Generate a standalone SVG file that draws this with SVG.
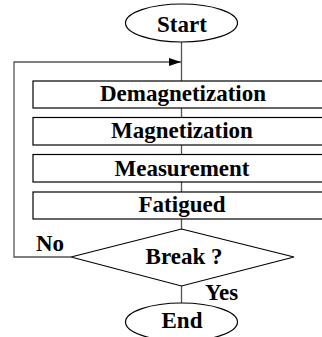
<svg xmlns="http://www.w3.org/2000/svg" width="322" height="337" viewBox="0 0 322 337">
<style>
.shape{fill:#fff;stroke:#000;stroke-width:1.2}
.lbl{font-family:"Liberation Serif","Times New Roman",serif;font-weight:bold;font-size:23px;fill:#000;text-anchor:middle}
.side{font-family:"Liberation Serif","Times New Roman",serif;font-weight:bold;font-size:23px;fill:#000}
.conn{fill:none;stroke:#555;stroke-width:1.3}
</style>
<defs>
<marker id="arr" markerWidth="12" markerHeight="8" refX="12" refY="4" orient="auto" markerUnits="userSpaceOnUse">
<path d="M0,0 L12,4 L0,8 Z" fill="#000"/>
</marker>
</defs>
<rect width="322" height="337" fill="#fff"/>
<g id="connectors">
<line class="conn" x1="181.5" y1="42" x2="181.5" y2="81"/>
<line class="conn" x1="181.5" y1="108" x2="181.5" y2="117"/>
<line class="conn" x1="181.5" y1="145" x2="181.5" y2="154"/>
<line class="conn" x1="181.5" y1="182" x2="181.5" y2="192"/>
<line class="conn" x1="181.5" y1="219" x2="181.5" y2="229"/>
<line class="conn" x1="181.5" y1="286" x2="181.5" y2="303"/>
<polyline class="conn" points="71,257 14,257 14,62 181,62" marker-end="url(#arr)"/>
</g>
<g id="start">
<ellipse class="shape" cx="181.5" cy="23" rx="56" ry="19"/>
<text class="lbl" x="182" y="32">Start</text>
</g>
<g id="demagnetization">
<rect class="shape" x="33" y="81" width="297" height="27"/>
<text class="lbl" x="183" y="101">Demagnetization</text>
</g>
<g id="magnetization">
<rect class="shape" x="33" y="117.5" width="297" height="27.5"/>
<text class="lbl" x="182" y="138">Magnetization</text>
</g>
<g id="measurement">
<rect class="shape" x="33" y="154.5" width="297" height="27.5"/>
<text class="lbl" x="182" y="176">Measurement</text>
</g>
<g id="fatigued">
<rect class="shape" x="33" y="192" width="297" height="27"/>
<text class="lbl" x="182" y="212">Fatigued</text>
</g>
<g id="break">
<polygon class="shape" points="181.5,229 294,257 181.5,286 71,257"/>
<text class="lbl" x="184" y="264">Break ?</text>
<text class="side" x="36" y="251">No</text>
<text class="side" x="205" y="300">Yes</text>
</g>
<g id="end">
<ellipse class="shape" cx="181.5" cy="322" rx="56" ry="19"/>
<text class="lbl" x="182" y="328">End</text>
</g>
</svg>
